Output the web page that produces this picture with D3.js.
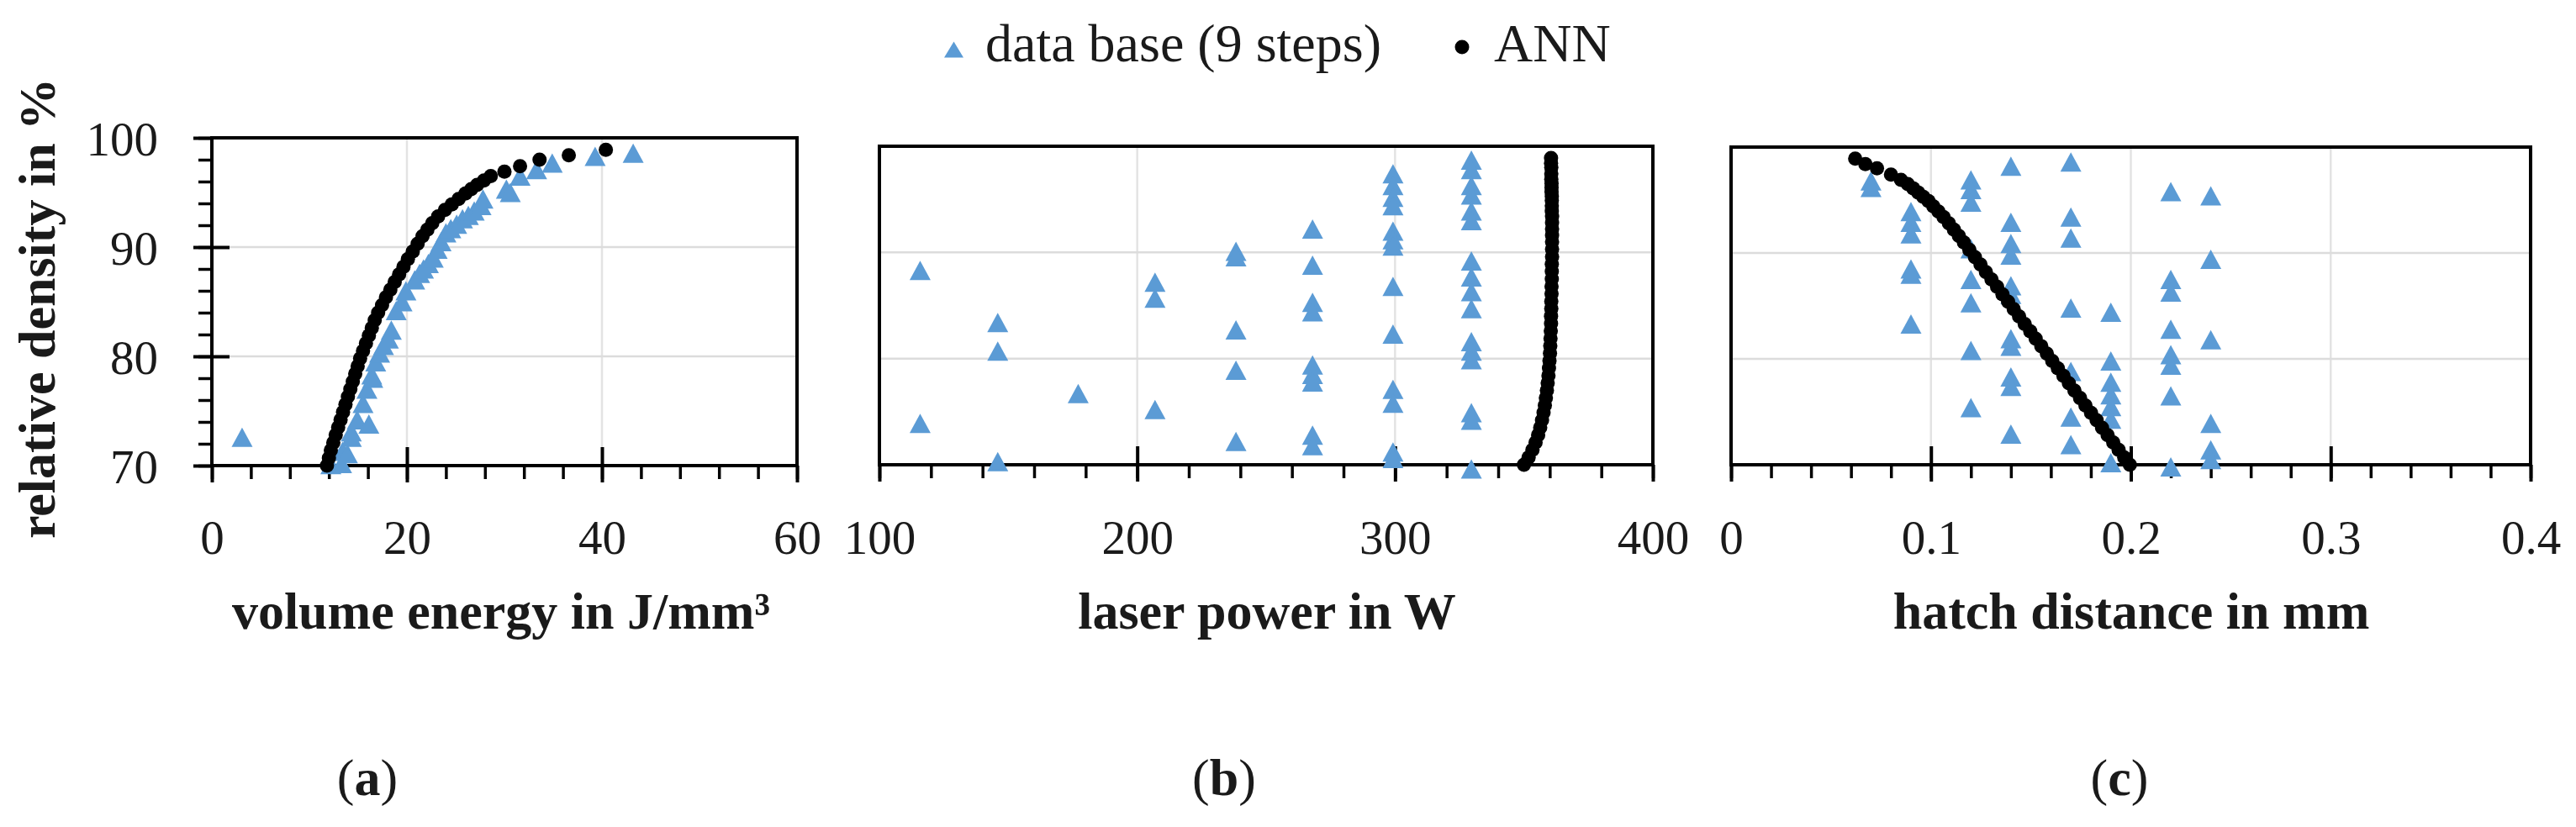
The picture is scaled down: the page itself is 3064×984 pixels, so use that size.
<!DOCTYPE html>
<html><head><meta charset="utf-8">
<script src="https://cdn.jsdelivr.net/npm/d3@7"></script>
<style>
html,body{margin:0;padding:0;background:#fff;}
svg{display:block;}
text{font-family:"Liberation Serif","Times New Roman",serif;fill:#1a1a1a;}
</style></head><body>
<svg id="chart" width="3064" height="984"></svg>
<script>
// ---------- tick labels ----------
const energyTicks = [0, 20, 40, 60];
const powerTicks = [100, 200, 300, 400];
const hatchTicks = [0, 0.1, 0.2, 0.3, 0.4];
const densityTicks = [70, 80, 90, 100];

// ---------- data base (9 steps) ----------
const dbEnergy = [3.1, 12.2, 13.3, 13.4, 13.9, 14.3, 14.3, 14.9, 15.5, 16.1, 15.9, 16.4, 16.5, 16.8, 17.2, 17.6, 18.1, 18.4, 18.9, 19.5, 19.9, 20.8, 21.3, 21.7, 22.2, 22.7, 23.1, 23.5, 24.0, 24.5, 25.1, 25.7, 26.3, 26.9, 27.6, 27.8, 30.2, 30.6, 31.6, 33.3, 34.9, 39.3, 43.2];
const dbDensityA = [72.6, 70.1, 70.2, 71.3, 71.1, 72.6, 73.1, 74.2, 75.7, 73.8, 77.0, 78.3, 78.0, 79.5, 80.3, 81.0, 81.6, 82.4, 84.2, 85.0, 86.0, 87.0, 87.6, 88.0, 88.5, 89.0, 89.8, 90.5, 91.3, 91.7, 92.1, 92.6, 92.9, 93.3, 93.8, 94.4, 95.3, 95.0, 96.5, 97.1, 97.7, 98.3, 98.6];

const dbPower = [
  115.8, 115.8,
  145.9, 145.9, 145.9,
  177.1,
  206.9, 206.9, 206.9,
  238.3, 238.3, 238.3, 238.3, 238.3,
  268.0, 268.0, 268.0, 268.0, 268.0, 268.0, 268.0, 268.0, 268.0,
  299.2, 299.2, 299.2, 299.2, 299.2, 299.2, 299.2, 299.2, 299.2, 299.2, 299.2, 299.2, 299.2,
  329.6, 329.6, 329.6, 329.6, 329.6, 329.6, 329.6, 329.6, 329.6, 329.6, 329.6, 329.6, 329.6, 329.6, 329.6, 329.6
];
const dbDensityB = [
  88.3, 73.9,
  83.4, 80.7, 70.3,
  76.7,
  87.2, 85.7, 75.2,
  90.1, 89.6, 82.7, 78.9, 72.2,
  92.2, 88.8, 85.3, 84.4, 79.4, 78.5, 77.8, 72.8, 71.8,
  97.4, 96.3, 95.2, 94.4, 92.0, 91.2, 90.6, 86.8, 82.3, 77.1, 75.8, 71.2, 70.6,
  98.7, 97.8, 96.3, 95.4, 93.9, 93.0, 89.2, 87.7, 86.3, 84.7, 81.6, 80.7, 79.9, 74.9, 74.2, 69.6
];

const dbHatch = [
  0.07, 0.07,
  0.09, 0.09, 0.09, 0.09, 0.09, 0.09,
  0.12, 0.12, 0.12, 0.12, 0.12, 0.12, 0.12, 0.12,
  0.14, 0.14, 0.14, 0.14, 0.14, 0.14, 0.14, 0.14, 0.14, 0.14, 0.14,
  0.17, 0.17, 0.17, 0.17, 0.17, 0.17, 0.17,
  0.19, 0.19, 0.19, 0.19, 0.19, 0.19, 0.19,
  0.22, 0.22, 0.22, 0.22, 0.22, 0.22, 0.22, 0.22,
  0.24, 0.24, 0.24, 0.24, 0.24, 0.24
];
const dbDensityC = [
  96.8, 96.2,
  93.9, 92.9, 91.8, 88.5, 88.0, 83.3,
  96.9, 96.0, 94.8, 90.4, 87.5, 85.3, 80.8, 75.4,
  98.2, 92.9, 90.9, 89.8, 86.9, 86.1, 81.9, 81.2, 78.3, 77.4, 72.9,
  98.6, 93.4, 91.4, 84.8, 78.8, 74.5, 71.9,
  84.4, 79.8, 77.8, 76.6, 75.5, 74.3, 70.2,
  95.8, 87.5, 86.3, 82.8, 80.4, 79.4, 76.5, 69.8,
  95.4, 89.4, 81.8, 73.9, 71.4, 70.5
];

// ---------- ANN predictions ----------
const annDensity = [70.0, 70.7, 71.4, 72.1, 72.8, 73.5, 74.2, 74.9, 75.6, 76.3, 77.0, 77.7, 78.4, 79.1, 79.8, 80.5, 81.2, 81.9, 82.6, 83.3, 84.0, 84.7, 85.4, 86.1, 86.8, 87.5, 88.2, 88.9, 89.6, 90.3, 91.0, 91.6, 92.2, 92.8, 93.4, 93.9, 94.4, 94.9, 95.3, 95.7, 96.1, 96.5, 96.9, 97.4, 98.0, 98.4, 98.9];
const annEnergy = [11.8, 12.0, 12.2, 12.45, 12.7, 12.95, 13.2, 13.45, 13.7, 13.95, 14.2, 14.45, 14.7, 14.95, 15.2, 15.5, 15.8, 16.1, 16.4, 16.7, 17.05, 17.45, 17.85, 18.3, 18.75, 19.2, 19.65, 20.1, 20.6, 21.1, 21.6, 22.1, 22.6, 23.2, 23.9, 24.6, 25.3, 26.0, 26.6, 27.2, 27.9, 28.6, 30.0, 31.6, 33.6, 36.6, 40.4];
const annPower = [350.0, 351.8, 353.3, 354.5, 355.5, 356.3, 357.0, 357.6, 358.1, 358.5, 358.9, 359.2, 359.5, 359.7, 359.9, 360.1, 360.2, 360.3, 360.4, 360.5, 360.5, 360.6, 360.6, 360.7, 360.7, 360.8, 360.8, 360.8, 360.9, 360.9, 360.9, 360.9, 360.9, 360.9, 360.9, 360.8, 360.8, 360.8, 360.8, 360.7, 360.7, 360.7, 360.6, 360.6, 360.6, 360.5, 360.5];
const annHatch = [0.1995, 0.1967, 0.1939, 0.1912, 0.1884, 0.1856, 0.1829, 0.1801, 0.1773, 0.1746, 0.1718, 0.1690, 0.1663, 0.1635, 0.1607, 0.1580, 0.1552, 0.1524, 0.1497, 0.1469, 0.1441, 0.1414, 0.1386, 0.1358, 0.1331, 0.1303, 0.1275, 0.1248, 0.1220, 0.1192, 0.1165, 0.1140, 0.1115, 0.1090, 0.1063, 0.1038, 0.1012, 0.0988, 0.0962, 0.0937, 0.0912, 0.0884, 0.0850, 0.0800, 0.0730, 0.0672, 0.0621];

// ---------- text ----------
const legendLabels = ["data base (9 steps)", "ANN"];
const yTitle = "relative density in %";
const xTitles = ["volume energy in J/mm³", "laser power in W", "hatch distance in mm"];
const panelLetters = ["a", "b", "c"];

// ---------- drawing ----------
const svg = d3.select("#chart");
const BLUE = "#5B9BD5";
const FONT = '"Liberation Serif","Times New Roman",serif';

function triPath(w, h) {
  const p = d3.path();
  p.moveTo(0, -h / 2); p.lineTo(w / 2, h / 2); p.lineTo(-w / 2, h / 2); p.closePath();
  return p.toString();
}

const panels = [
  { box: { x0: 252, x1: 948, y0: 164, y1: 554 }, domain: [0, 60], major: energyTicks, minorStep: 4,
    fmt: d => String(d), xs: dbEnergy, ys: dbDensityA, ax: annEnergy, yAxis: true, title: xTitles[0], titleX: 596,
    letterX: 437 },
  { box: { x0: 1046, x1: 1966, y0: 174, y1: 553 }, domain: [100, 400], major: powerTicks, minorStep: 20,
    fmt: d => String(d), xs: dbPower, ys: dbDensityB, ax: annPower, yAxis: false, title: xTitles[1], titleX: 1507,
    letterX: 1456 },
  { box: { x0: 2059, x1: 3010, y0: 175, y1: 553 }, domain: [0, 0.4], major: hatchTicks, minorStep: 0.02,
    fmt: d => (d === 0 ? "0" : d3.format(".1f")(d)), xs: dbHatch, ys: dbDensityC, ax: annHatch, yAxis: false, title: xTitles[2], titleX: 2535,
    letterX: 2521 }
];

panels.forEach((P, i) => {
  const b = P.box;
  const x = d3.scaleLinear().domain(P.domain).range([b.x0, b.x1]);
  const y = d3.scaleLinear().domain([70, 100]).range([b.y1, b.y0]);
  const g = svg.append("g");

  const xInterior = P.major.slice(1, -1);
  const yInterior = densityTicks.slice(1, -1);

  // gridlines
  g.append("g").selectAll("line").data(xInterior).join("line")
    .attr("x1", d => x(d)).attr("x2", d => x(d)).attr("y1", b.y0).attr("y2", b.y1)
    .attr("stroke", "#e3e3e3").attr("stroke-width", 2.5);
  g.append("g").selectAll("line").data(yInterior).join("line")
    .attr("x1", b.x0).attr("x2", b.x1).attr("y1", d => y(d)).attr("y2", d => y(d))
    .attr("stroke", "#dcdcdc").attr("stroke-width", 2.5);

  // x axis: minor ticks
  const n = Math.round((P.domain[1] - P.domain[0]) / P.minorStep);
  const minor = d3.range(n + 1).map(k => P.domain[0] + k * P.minorStep);
  const gxMinor = g.append("g").attr("transform", `translate(0,${b.y1})`)
    .call(d3.axisBottom(x).tickValues(minor).tickSize(16).tickFormat(""));
  gxMinor.select(".domain").remove();
  gxMinor.selectAll("line").attr("stroke", "#000").attr("stroke-width", 3.5);

  // x axis: major ticks with labels
  const gx = g.append("g").attr("transform", `translate(0,${b.y1})`)
    .call(d3.axisBottom(x).tickValues(P.major).tickSize(20).tickFormat(P.fmt));
  gx.select(".domain").remove();
  gx.selectAll("line").attr("stroke", "#000").attr("stroke-width", 4);
  gx.selectAll("text").attr("y", 659 - b.y1).attr("dy", 0)
    .style("font-family", FONT).style("font-size", "57px").attr("fill", "#1a1a1a");
  const gxIn = g.append("g").attr("transform", `translate(0,${b.y1})`)
    .call(d3.axisBottom(x).tickValues(xInterior).tickSize(-22).tickFormat(""));
  gxIn.select(".domain").remove();
  gxIn.selectAll("line").attr("stroke", "#000").attr("stroke-width", 4);

  if (P.yAxis) {
    const yMinor = d3.range(16).map(k => 70 + k * 2);
    const gyMinor = g.append("g").attr("transform", `translate(${b.x0},0)`)
      .call(d3.axisLeft(y).tickValues(yMinor).tickSize(16).tickFormat(""));
    gyMinor.select(".domain").remove();
    gyMinor.selectAll("line").attr("stroke", "#000").attr("stroke-width", 3.5);
    const gy = g.append("g").attr("transform", `translate(${b.x0},0)`)
      .call(d3.axisLeft(y).tickValues(densityTicks).tickSize(22).tickFormat(d => String(d)));
    gy.select(".domain").remove();
    gy.selectAll("line").attr("stroke", "#000").attr("stroke-width", 4);
    gy.selectAll("text").attr("x", -64).attr("dy", 0).attr("y", 20)
      .style("font-family", FONT).style("font-size", "57px").attr("fill", "#1a1a1a");
    const gyIn = g.append("g").attr("transform", `translate(${b.x0},0)`)
      .call(d3.axisLeft(y).tickValues(yInterior).tickSize(-21).tickFormat(""));
    gyIn.select(".domain").remove();
    gyIn.selectAll("line").attr("stroke", "#000").attr("stroke-width", 4);
  }

  // frame
  g.append("rect").attr("x", b.x0).attr("y", b.y0).attr("width", b.x1 - b.x0).attr("height", b.y1 - b.y0)
    .attr("fill", "none").attr("stroke", "#000").attr("stroke-width", 4);

  // data base triangles
  const tri = triPath(25, 23);
  g.append("g").selectAll("path").data(P.xs.map((v, k) => [v, P.ys[k]])).join("path")
    .attr("d", tri).attr("fill", BLUE)
    .attr("transform", d => `translate(${x(d[0])},${y(d[1])})`);

  // ANN dots
  g.append("g").selectAll("circle").data(P.ax.map((v, k) => [v, annDensity[k]])).join("circle")
    .attr("cx", d => x(d[0])).attr("cy", d => y(d[1])).attr("r", 8.5).attr("fill", "#000");

  // x title
  svg.append("text").attr("x", P.titleX).attr("y", 748).attr("text-anchor", "middle")
    .style("font-size", "62px").style("font-weight", "bold").text(P.title);

  // panel letter
  const t = svg.append("text").attr("x", P.letterX).attr("y", 946).attr("text-anchor", "middle")
    .style("font-size", "62px");
  t.append("tspan").text("(");
  t.append("tspan").style("font-weight", "bold").text(panelLetters[i]);
  t.append("tspan").text(")");
});

// y title
svg.append("text").attr("transform", "translate(65,367) rotate(-90)").attr("text-anchor", "middle")
  .style("font-size", "62px").style("font-weight", "bold").text(yTitle);

// legend
const lg = svg.append("g");
lg.append("path").attr("d", triPath(23, 19)).attr("fill", BLUE).attr("transform", "translate(1134.5,59)");
lg.append("text").attr("x", 1172).attr("y", 73).style("font-size", "64px").text(legendLabels[0]);
lg.append("circle").attr("cx", 1739).attr("cy", 56).attr("r", 8.5).attr("fill", "#000");
lg.append("text").attr("x", 1777).attr("y", 73).style("font-size", "64px").text(legendLabels[1]);
</script>
</body></html>
